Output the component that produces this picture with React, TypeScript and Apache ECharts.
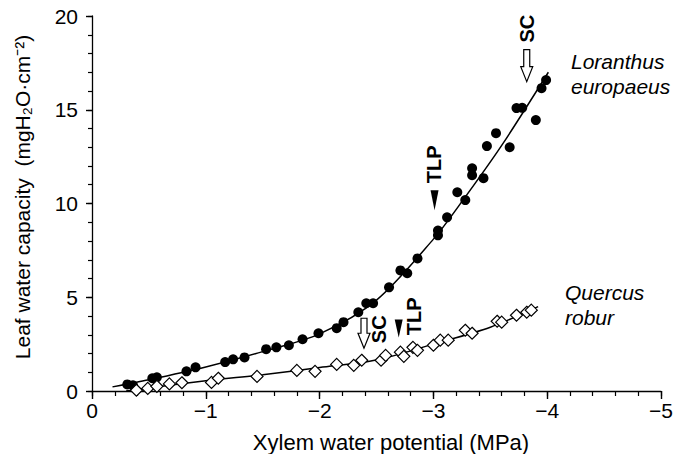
import React, { useEffect, useRef } from "react";
import * as echarts from "echarts";

// Loranthus europaeus (filled circles): [xylem potential MPa, capacity]
const loranthusPoints: number[][] = [
  [-0.31, 0.35], [-0.36, 0.3], [-0.53, 0.68], [-0.57, 0.73], [-0.83, 1.05], [-0.91, 1.26],
  [-1.17, 1.54], [-1.24, 1.69], [-1.34, 1.79], [-1.53, 2.23], [-1.62, 2.33], [-1.73, 2.44],
  [-1.85, 2.76], [-1.99, 3.08], [-2.15, 3.35], [-2.21, 3.67], [-2.34, 4.2], [-2.41, 4.68],
  [-2.47, 4.68], [-2.61, 5.53], [-2.71, 6.43], [-2.77, 6.28], [-2.86, 7.07], [-3.04, 8.56],
  [-3.04, 8.3], [-3.12, 9.26], [-3.21, 10.6], [-3.28, 10.18], [-3.34, 11.88], [-3.34, 11.51],
  [-3.44, 11.35], [-3.47, 13.06], [-3.55, 13.75], [-3.67, 13.0], [-3.73, 15.09], [-3.78, 15.1],
  [-3.9, 14.45], [-3.95, 16.15], [-3.99, 16.58],
];
// fitted curve
const loranthusFit: number[][] = [
  [-0.18, 0.22], [-0.5, 0.6], [-1, 1.28], [-1.5, 2.1], [-2, 3.05], [-2.5, 4.85],
  [-3, 8.1], [-3.25, 10.1], [-3.6, 13.1], [-4.01, 17.0],
];

// Quercus robur (open diamonds)
const quercusPoints: number[][] = [
  [-0.39, 0.04], [-0.49, 0.14], [-0.57, 0.25], [-0.68, 0.38], [-0.79, 0.44], [-1.05, 0.46],
  [-1.11, 0.68], [-1.45, 0.78], [-1.8, 1.1], [-1.96, 1.05], [-2.15, 1.42], [-2.3, 1.37],
  [-2.37, 1.64], [-2.54, 1.64], [-2.58, 1.9], [-2.71, 2.07], [-2.74, 1.85], [-2.82, 2.33],
  [-2.86, 2.17], [-3.0, 2.44], [-3.06, 2.71], [-3.13, 2.71], [-3.28, 3.24], [-3.34, 3.08],
  [-3.56, 3.72], [-3.6, 3.67], [-3.73, 4.04], [-3.82, 4.2], [-3.86, 4.31],
];
const quercusFit: number[][] = [
  [-0.3, 0.0], [-1, 0.55], [-1.5, 0.87], [-2, 1.25], [-2.5, 1.65], [-3, 2.5],
  [-3.5, 3.4], [-3.92, 4.5],
];

// annotations: tip position in data space, marker kind, label offset in px
const annotations = [
  { label: "SC", kind: "arrow", x: -3.82, y: 16.5, dx: 0, dy: -53, len: 32 },
  { label: "TLP", kind: "wedge", x: -3.01, y: 9.64, dx: -1, dy: -46, len: 20 },
  { label: "SC", kind: "arrow", x: -2.39, y: 2.28, dx: 15, dy: -19, len: 30 },
  { label: "TLP", kind: "wedge", x: -2.695, y: 2.86, dx: 15, dy: -21, len: 18 },
];

const xRange = { min: -5, max: 0 };
const xMajor = 1;
const xMinor = 0.2;
const yRange = { min: 0, max: 20 };
const yMajor = 5;
const yMinor = 1;

const FONT = '"Liberation Sans", Arial, sans-serif';

export default function App() {
  const ref = useRef<HTMLDivElement>(null);
  useEffect(() => {
    document.body.style.margin = "0";
    const chart = echarts.init(ref.current!, null, { renderer: "svg" });
    const tickStyle = { color: "#000", width: 1.4 };
    chart.setOption({
      animation: false,
      backgroundColor: "#fff",
      grid: { left: 92, right: 7, top: 16, bottom: 63 },
      xAxis: [
        {
          type: "value",
          inverse: true,
          ...xRange,
          interval: xMajor,
          axisLine: { show: true, lineStyle: { color: "#000", width: 1.3 } },
          splitLine: { show: false },
          axisTick: { show: true, length: 8, lineStyle: tickStyle },
          axisLabel: {
            color: "#000",
            fontSize: 21,
            fontFamily: FONT,
            margin: 9,
            formatter: (v: number) => (v === 0 ? "0" : "\u2212" + Math.abs(v)),
          },
        },
        {
          type: "value",
          inverse: true,
          position: "bottom",
          ...xRange,
          interval: xMinor,
          axisLine: { show: false },
          splitLine: { show: false },
          axisTick: { show: true, length: 5, lineStyle: { color: "#000", width: 1.2 } },
          axisLabel: { show: false },
        },
      ],
      yAxis: [
        {
          type: "value",
          ...yRange,
          interval: yMajor,
          axisLine: { show: true, lineStyle: { color: "#000", width: 1.3 } },
          splitLine: { show: false },
          axisTick: { show: true, length: 6, lineStyle: tickStyle },
          axisLabel: { color: "#000", fontSize: 21, fontFamily: FONT, margin: 14 },
        },
        {
          type: "value",
          position: "left",
          ...yRange,
          interval: yMinor,
          axisLine: { show: false },
          splitLine: { show: false },
          axisTick: { show: true, length: 4, lineStyle: { color: "#000", width: 1.2 } },
          axisLabel: { show: false },
        },
      ],
      series: [
        {
          type: "line",
          data: loranthusFit,
          smooth: 0.3,
          symbol: "none",
          lineStyle: { color: "#000", width: 1.5 },
          z: 1,
        },
        {
          type: "line",
          data: quercusFit,
          smooth: 0.3,
          symbol: "none",
          lineStyle: { color: "#000", width: 1.5 },
          z: 1,
        },
        {
          type: "scatter",
          data: loranthusPoints,
          symbol: "circle",
          symbolSize: 10,
          itemStyle: { color: "#000", opacity: 1 },
          z: 3,
        },
        {
          type: "scatter",
          data: quercusPoints,
          symbol: "diamond",
          symbolSize: [12, 12],
          itemStyle: { color: "#fff", borderColor: "#000", borderWidth: 1.2, opacity: 1 },
          z: 3,
        },
      ],
    });

    const els: any[] = [];
    annotations.forEach((a) => {
      const [px, py] = chart.convertToPixel({ gridIndex: 0 }, [a.x, a.y]) as number[];
      const L = a.len;
      if (a.kind === "arrow") {
        const hl = 15, hw = 6, sw = 3;
        els.push({
          type: "polygon",
          shape: {
            points: [
              [px, py], [px - hw, py - hl], [px - sw, py - hl], [px - sw, py - L],
              [px + sw, py - L], [px + sw, py - hl], [px + hw, py - hl],
            ],
          },
          style: { fill: "#fff", stroke: "#000", lineWidth: 1.2 },
          z: 10,
        });
      } else {
        els.push({
          type: "polygon",
          shape: { points: [[px, py], [px - 4, py - L], [px + 4, py - L]] },
          style: { fill: "#000" },
          z: 10,
        });
      }
      els.push({
        type: "text",
        x: px + a.dx,
        y: py + a.dy,
        rotation: Math.PI / 2,
        style: {
          text: a.label,
          font: `bold 20px ${FONT}`,
          fill: "#000",
          align: "center",
          verticalAlign: "middle",
        },
        z: 10,
      });
    });

    const italic = `italic 21px ${FONT}`;
    els.push(
      { type: "text", x: 571, y: 61, style: { text: "Loranthus", font: italic, fill: "#000", align: "left", verticalAlign: "middle" } },
      { type: "text", x: 571, y: 86, style: { text: "europaeus", font: italic, fill: "#000", align: "left", verticalAlign: "middle" } },
      { type: "text", x: 565, y: 292, style: { text: "Quercus", font: italic, fill: "#000", align: "left", verticalAlign: "middle" } },
      { type: "text", x: 565, y: 317, style: { text: "robur", font: italic, fill: "#000", align: "left", verticalAlign: "middle" } },
      {
        type: "text",
        x: 391,
        y: 442,
        style: { text: "Xylem water potential (MPa)", font: `22px ${FONT}`, fill: "#000", align: "center", verticalAlign: "middle" },
      },
      {
        type: "text",
        x: 22,
        y: 197,
        rotation: Math.PI / 2,
        style: {
          text: "Leaf water capacity  (mgH\u2082O\u00b7cm\u207b\u00b2)",
          font: `21px ${FONT}`,
          fill: "#000",
          align: "center",
          verticalAlign: "middle",
        },
      }
    );
    chart.setOption({ graphic: els });

    return () => chart.dispose();
  }, []);
  return <div ref={ref} style={{ width: 676, height: 454 }} />;
}
